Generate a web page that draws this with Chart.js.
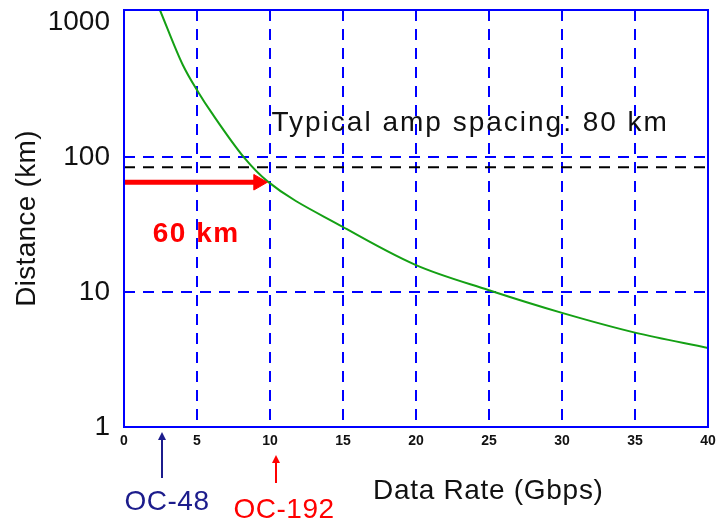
<!DOCTYPE html>
<html lang="en">
<head>
  <meta charset="UTF-8" />
  <title>Distance vs Data Rate</title>
  <script src="https://cdn.jsdelivr.net/npm/chart.js@4.4.1/dist/chart.umd.min.js"></script>
  <style>
    body { margin: 0; background: #fff; }
  </style>
</head>
<body>
  <canvas id="myChart" width="718" height="522"></canvas>

  <script>
    // values
    const rateGbps = [2.46, 4.03, 5.12, 6.01, 8.26, 9.83, 15, 20, 25, 30, 35, 40];
    const distanceKm = [1227, 480, 298, 212, 98, 66, 30.3, 15.8, 10.3, 7.0, 5.0, 3.85];

    const yTickValues = [1, 10, 100, 1000];
    const yGridValues = [10, 100];
    const xMin = 0, xMax = 40, xStep = 5;
    const yMin = 1, yMax = 1227;

    const ampSpacingKm = 84;     // black dashed line ("80 km")
    const spanKm = 65;           // red arrow ("60 km")
    const spanArrowRate = 9.2;   // arrow head centre

    const markerLabels = ['OC-48', 'OC-192'];
    const markerRates = [2.6, 10.4];
    const markerColors = ['#1c1c8c', '#ff0000'];

    const FONT = "'Liberation Sans', Arial, sans-serif";
    const BLUE = '#0000ff';
    const DASH = [11, 8];

    const annotations = {
      id: 'annotations',
      afterDraw(chart) {
        const { ctx, chartArea: a, scales: { x, y } } = chart;
        ctx.save();

        // frame round the plot
        ctx.strokeStyle = BLUE;
        ctx.lineWidth = 2;
        ctx.strokeRect(a.left, a.top, a.right - a.left, a.bottom - a.top);

        ctx.textBaseline = 'alphabetic';
        ctx.textAlign = 'left';

        // typical amp spacing text
        ctx.fillStyle = '#111';
        ctx.font = '28px ' + FONT;
        ctx.letterSpacing = '2px';
        ctx.fillText('Typical amp spacing: 80 km', x.getPixelForValue(10.1), y.getPixelForValue(ampSpacingKm) - 36);

        // 60 km label
        ctx.fillStyle = '#ff0000';
        ctx.font = 'bold 28px ' + FONT;
        ctx.letterSpacing = '1.5px';
        ctx.fillText('60 km', x.getPixelForValue(1.97), y.getPixelForValue(spanKm) + 60);

        // axis titles
        ctx.fillStyle = '#111';
        ctx.font = '28px ' + FONT;
        ctx.letterSpacing = '0.7px';
        ctx.fillText('Data Rate (Gbps)', 373, a.bottom + 72);

        ctx.save();
        ctx.translate(35, (a.top + a.bottom) / 2);
        ctx.rotate(-Math.PI / 2);
        ctx.textAlign = 'center';
        ctx.letterSpacing = '0.3px';
        ctx.fillText('Distance (km)', 0, 0);
        ctx.restore();

        // OC markers below the axis
        const tails = [51, 56];
        const tips = [5, 28];
        const textBase = [83, 91];
        ctx.letterSpacing = '0.5px';
        markerRates.forEach((r, i) => {
          const px = Math.round(x.getPixelForValue(r));
          const tip = a.bottom + tips[i];
          ctx.strokeStyle = markerColors[i];
          ctx.fillStyle = markerColors[i];
          ctx.lineWidth = 2;
          ctx.beginPath();
          ctx.moveTo(px, a.bottom + tails[i]);
          ctx.lineTo(px, tip + 4);
          ctx.stroke();
          ctx.beginPath();
          ctx.moveTo(px, tip);
          ctx.lineTo(px - 4, tip + 8);
          ctx.lineTo(px + 4, tip + 8);
          ctx.closePath();
          ctx.fill();
          ctx.font = '28px ' + FONT;
          ctx.textAlign = 'center';
          ctx.fillText(markerLabels[i], px + 5 + i * 3, a.bottom + textBase[i]);
        });

        ctx.restore();
      }
    };

    const ctx = document.getElementById('myChart').getContext('2d');

    const myChart = new Chart(ctx, {
      type: 'scatter',
      data: {
        datasets: [
          {
            // amp spacing line
            data: [{ x: xMin, y: ampSpacingKm }, { x: xMax, y: ampSpacingKm }],
            showLine: true,
            borderColor: '#000',
            borderWidth: 2,
            borderDash: DASH,
            pointRadius: 0
          },
          {
            // 60 km span arrow
            data: [{ x: xMin, y: spanKm }, { x: spanArrowRate, y: spanKm }],
            showLine: true,
            borderColor: '#ff0000',
            borderWidth: 5,
            pointStyle: 'triangle',
            rotation: 90,
            pointRadius: [0, 9],
            pointBackgroundColor: '#ff0000',
            pointBorderColor: '#ff0000',
            pointBorderWidth: 1
          },
          {
            // distance limit curve
            data: rateGbps.map((r, i) => ({ x: r, y: distanceKm[i] })),
            showLine: true,
            borderColor: '#14a014',
            borderWidth: 2,
            pointRadius: 0,
            cubicInterpolationMode: 'monotone'
          }
        ]
      },
      options: {
        responsive: false,
        animation: false,
        layout: { padding: { top: 10, right: 8, left: 0, bottom: 0 } },
        plugins: { legend: { display: false }, tooltip: { enabled: false } },
        scales: {
          x: {
            type: 'linear',
            min: xMin,
            max: xMax,
            afterFit: (scale) => {
              scale.height = 95;
              scale.paddingLeft = 0;
              scale.paddingRight = 0;
            },
            ticks: {
              stepSize: xStep,
              padding: 6,
              color: '#111',
              font: { family: FONT, size: 14, weight: 'bold' }
            },
            grid: {
              drawTicks: false,
              lineWidth: 2,
              color: (c) => (c.tick && c.tick.value > xMin && c.tick.value < xMax) ? BLUE : 'transparent'
            },
            border: { display: false, dash: DASH }
          },
          y: {
            type: 'logarithmic',
            min: yMin,
            max: yMax,
            afterFit: (scale) => {
              scale.width = 124;
              scale.paddingTop = 0;
              scale.paddingBottom = 0;
            },
            afterBuildTicks: (scale) => { scale.ticks = yTickValues.map(v => ({ value: v })); },
            ticks: {
              padding: 14,
              color: '#111',
              font: { family: FONT, size: 28 },
              callback: (v) => String(v)
            },
            grid: {
              drawTicks: false,
              lineWidth: 2,
              color: (c) => (c.tick && yGridValues.includes(c.tick.value)) ? BLUE : 'transparent'
            },
            border: { display: false, dash: DASH }
          }
        }
      },
      plugins: [annotations]
    });
  </script>
</body>
</html>
